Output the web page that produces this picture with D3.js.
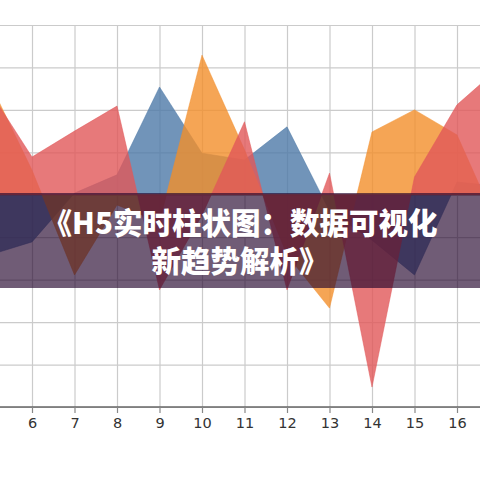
<!doctype html>
<html>
  <head>
    <meta charset="utf-8">
    <title>H5 实时柱状图</title>
    <style>
      html, body { margin: 0; padding: 0; background: #fff; }
      #chart { width: 480px; height: 480px; overflow: hidden; }
      .grid line { stroke: #cbcbcb; stroke-width: 1.2; }
      .grid path { display: none; }
      .x-axis path { stroke: #666; stroke-width: 1.5; }
      .x-axis line { stroke: #888; stroke-width: 1.2; }
      .x-axis text { fill: #333; font-family: "DejaVu Sans", sans-serif; font-size: 14.5px; }
    </style>
    <script src="https://cdnjs.cloudflare.com/ajax/libs/d3/7.8.5/d3.min.js"></script>
  </head>
  <body>
    <div id="chart"></div>
    <script>
      // x positions (only 6..16 are labelled, 5 and 17 run off the edges)
      const xs = [5, 6, 7, 8, 9, 10, 11, 12, 13, 14, 15, 16, 17];
      const tickLabels = [6, 7, 8, 9, 10, 11, 12, 13, 14, 15, 16];

      // series values
      const blueVals   = [3.58, 3.89, 5.04, 5.47, 7.54, 5.98, 5.82, 6.6, 4.62, 3.93, 3.11, 5.3, 5.2];
      const orangeVals = [7.65, 5.58, 3.11, 4.76, 4.36, 8.29, 6.06, 3.58, 2.33, 6.48, 7.0, 6.41, 4.17];
      const redVals    = [7.45, 5.89, 6.5, 7.09, 2.76, 4.52, 6.72, 2.76, 5.51, 0.47, 5.42, 7.12, 8.0];

      const seriesNames  = ["blue", "orange", "red"];
      const seriesColors = ["#4e79a7", "#f28e2b", "#e15759"];
      const baseline = 5;

      const titleLines = ["《H5实时柱状图：数据可视化", "新趋势解析》"];

      const W = 480, H = 480;
      const svg = d3.select("#chart").append("svg")
        .attr("width", W)
        .attr("height", H);

      const x = d3.scaleLinear().domain([6, 16]).range([32, 457]);
      const y = d3.scaleLinear().domain([0, 9]).range([407, 25]);

      // grid
      svg.append("g")
        .attr("class", "grid")
        .attr("transform", `translate(0,${y(0)})`)
        .call(d3.axisBottom(x).tickValues(xs).tickSize(-(y(0) - y(9))).tickFormat(""));

      svg.append("g")
        .attr("class", "grid")
        .call(d3.axisLeft(y).ticks(9).tickSize(-W).tickFormat(""));

      // areas
      const series = [blueVals, orangeVals, redVals];
      const area = d3.area()
        .x((d, i) => x(xs[i]))
        .y0(y(baseline))
        .y1(d => y(d));

      svg.selectAll("path.area")
        .data(series)
        .enter()
        .append("path")
        .attr("class", (d, i) => "area " + seriesNames[i])
        .attr("d", area)
        .attr("fill", (d, i) => seriesColors[i])
        .attr("fill-opacity", 0.8)
        .attr("stroke", (d, i) => seriesColors[i])
        .attr("stroke-opacity", 0.5)
        .attr("stroke-width", 1);

      // x axis
      svg.append("g")
        .attr("class", "x-axis")
        .attr("transform", `translate(0,${y(0)})`)
        .call(d3.axisBottom(x).tickValues(tickLabels).tickSize(6).tickPadding(5).tickFormat(d3.format("d")))
        .call(g => g.select(".domain").attr("d", `M0,0H${W}`));

      // title banner
      const bannerTop = 193, bannerH = 95;
      svg.append("rect")
        .attr("x", 0)
        .attr("y", bannerTop)
        .attr("width", W)
        .attr("height", bannerH)
        .attr("fill", "rgba(35,5,45,0.65)");

      svg.selectAll("text.title")
        .data(titleLines)
        .enter()
        .append("text")
        .attr("class", "title")
        .attr("x", W / 2)
        .attr("y", (d, i) => 221 + i * 38)
        .attr("text-anchor", "middle")
        .attr("dominant-baseline", "central")
        .attr("fill", "#fff")
        .style("font-family", '"Noto Sans CJK SC", sans-serif')
        .style("font-weight", 900)
        .style("font-size", "29.5px")
        .text(d => d);
    </script>
  </body>
</html>
